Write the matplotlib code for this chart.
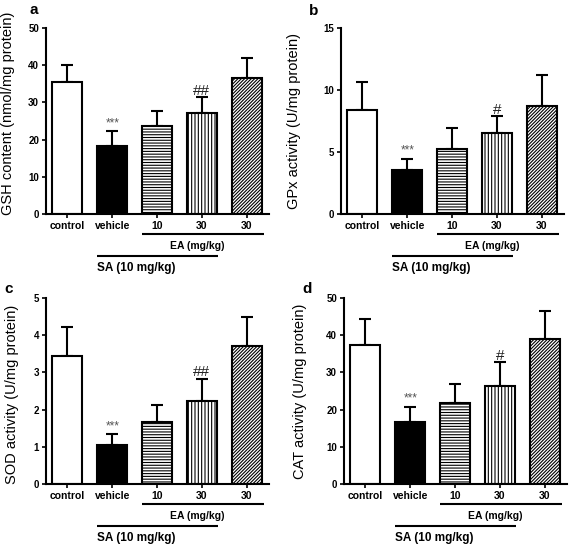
import matplotlib
matplotlib.use("Agg")
import matplotlib.pyplot as plt
import matplotlib.transforms as mtransforms

plt.rcParams['font.family'] = ['Liberation Sans', 'DejaVu Sans']
plt.rcParams['hatch.linewidth'] = 0.8

categories = ["control", "vehicle", "10", "30", "30"]

gsh_mean = [35.4, 18.4, 23.7, 27.2, 36.6]
gsh_err = [4.7, 3.8, 4.1, 4.2, 5.3]
gpx_mean = [8.35, 3.55, 5.25, 6.5, 8.75]
gpx_err = [2.3, 0.9, 1.7, 1.4, 2.5]
sod_mean = [3.45, 1.05, 1.68, 2.23, 3.7]
sod_err = [0.76, 0.29, 0.44, 0.6, 0.79]
cat_mean = [37.5, 16.6, 21.7, 26.4, 39.0]
cat_err = [6.9, 4.2, 5.3, 6.4, 7.6]

ylabels = ["GSH content (nmol/mg protein)", "GPx activity (U/mg protein)",
           "SOD activity (U/mg protein)", "CAT activity (U/mg protein)"]
ymaxes = [50, 15, 5, 50]
ysteps = [10, 5, 1, 10]
sig_marks = [("***", "##"), ("***", "#"), ("***", "##"), ("***", "#")]
panel_letters = ["a", "b", "c", "d"]

fills = ["white", "black", "white", "white", "white"]
hatches = [None, None, "------", "|||||", "//////////"]

W, H = 569, 547
fig = plt.figure(figsize=(W / 100, H / 100), dpi=100)

# axes boxes in pixels: left, top(y of max), bottom(y of 0)
boxes = [(46, 28, 214), (341, 28, 214), (46, 298, 484), (344, 298, 484)]
axw = 223
label_x = [-0.14, -0.18, -0.12, -0.165]
label_y = [0.54, 0.5, 0.48, 0.5]
letter_pos = [(30, 10), (309, 11), (4, 289), (302, 289)]

datasets = [(gsh_mean, gsh_err), (gpx_mean, gpx_err), (sod_mean, sod_err), (cat_mean, cat_err)]

for i, (mean, err) in enumerate(datasets):
    l, t, b = boxes[i]
    ax = fig.add_axes([l / W, (H - b) / H, axw / W, (b - t) / H])
    x = list(range(len(categories)))
    ax.bar(x, mean, width=0.67, color=fills, edgecolor="black", linewidth=1.5,
           zorder=2)
    for p, h in zip(ax.patches, hatches):
        if h:
            p.set_hatch(h)
    lower = [0] * len(err)
    ax.errorbar(x, mean, yerr=[lower, err], fmt="none", ecolor="black",
                elinewidth=1.5, capsize=4.5, capthick=1.5, zorder=1)
    ax.set_xlim(-0.48, 4.5)
    ax.set_ylim(0, ymaxes[i])
    ax.set_yticks([k * ysteps[i] for k in range(int(ymaxes[i] / ysteps[i]) + 1)])
    ax.set_xticks(x)
    ax.set_xticklabels(categories, fontweight="bold", fontsize=7.5)
    for lab in ax.get_yticklabels():
        lab.set_fontweight("bold")
        lab.set_fontsize(7)
    ax.spines["top"].set_visible(False)
    ax.spines["right"].set_visible(False)
    ax.spines["left"].set_linewidth(1.5)
    ax.spines["bottom"].set_linewidth(1.5)
    ax.tick_params(axis="both", width=1.2, length=3, pad=2)
    ax.set_ylabel(ylabels[i], fontsize=10.5)
    ax.yaxis.set_label_coords(label_x[i], label_y[i])

    # significance marks
    s1, s2 = sig_marks[i]
    ax.annotate(s1, (1, mean[1] + err[1]), xytext=(0, 1.5), textcoords="offset points",
                ha="center", va="bottom", fontsize=8.5, color="#555555")
    ax.annotate(s2, (3, mean[3] + err[3]), xytext=(0, -0.5), textcoords="offset points",
                ha="center", va="bottom", fontsize=11, color="#222222")

    trans = mtransforms.blended_transform_factory(ax.transData, ax.transAxes)
    ax.plot([2 - 0.335, 4.39], [-0.108, -0.108], transform=trans, color="black",
            lw=1.5, clip_on=False, solid_capstyle="butt")
    ax.text(2.9, -0.172, "EA (mg/kg)", transform=trans, ha="center", va="center",
            fontsize=7.5, fontweight="bold")
    ax.plot([1 - 0.335, 3.36], [-0.226, -0.226], transform=trans, color="black",
            lw=1.5, clip_on=False, solid_capstyle="butt")
    ax.text(1 - 0.335, -0.29, "SA (10 mg/kg)", transform=trans, ha="left", va="center",
            fontsize=8.5, fontweight="bold")

    lx, ly = letter_pos[i]
    fig.text(lx / W, 1 - ly / H, panel_letters[i], fontsize=11, fontweight="bold",
             ha="left", va="center")

fig.savefig("out.png", dpi=100, facecolor="white")
